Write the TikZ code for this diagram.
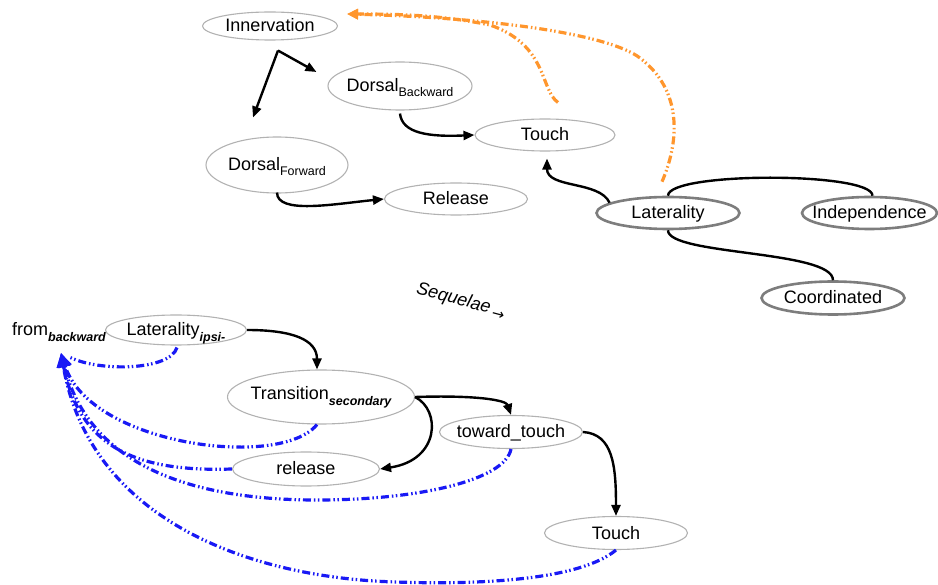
\documentclass[tikz,border=0pt]{standalone}
\usepackage{fontspec}
\setmainfont{Liberation Sans}
\newfontfamily\symfont{DejaVu Sans}
\usetikzlibrary{shapes.geometric,arrows.meta}
\definecolor{ringgray}{RGB}{178,178,178}
\definecolor{ringdark}{RGB}{125,125,125}
\definecolor{flowor}{RGB}{255,150,45}
\definecolor{flowbl}{RGB}{25,25,245}
% small subscripts: upright, and bold italic
\newcommand\subup[1]{\raisebox{-5pt}{\fontsize{12.5}{13}\selectfont #1}}
\newcommand\subbi[1]{\raisebox{-6pt}{\fontsize{12.5}{13}\selectfont\bfseries\itshape #1}}

\begin{document}
\begin{tikzpicture}[x=1pt,y=-1pt,font=\fontsize{18}{20}\selectfont,
  state/.style={ellipse,draw=ringgray,line width=1.1pt,inner xsep=-20pt,inner ysep=-5pt,
                text height=12pt,text depth=0pt},
  keystate/.style={state,draw=ringdark,line width=2.6pt},
  flow/.style={line width=2.4pt,-{Triangle[length=11pt,width=9pt]}},
  tie/.style={line width=2.4pt},
  dashdd/.style={dash pattern=on 8pt off 3pt on 1.5pt off 2.5pt on 1.5pt off 3pt},
  backor/.style={draw=flowor,line width=3.2pt,dashdd,-{Triangle[length=11pt,width=10pt]}},
  backbl/.style={draw=flowbl,line width=3.2pt,dashdd,-{Triangle[length=14pt,width=13pt]}},
]
\useasboundingbox (0,0) rectangle (938,585);

% ---- upper cluster ----
\node[state,minimum width=135pt,minimum height=28pt] (inn) at (270,26) {Innervation};
\node[state,minimum width=144pt,minimum height=48pt] (db) at (400,86) {Dorsal\subup{Backward}};
\node[state,minimum width=140pt,minimum height=32pt] (t1) at (545,135) {Touch};
\node[state,minimum width=142pt,minimum height=56pt] (df) at (277,165) {Dorsal\subup{Forward}};
\node[state,minimum width=143pt,minimum height=32pt] (rel) at (456,199) {Release};
\node[keystate,minimum width=143pt,minimum height=32pt] (lat) at (668,213) {Laterality};
\node[keystate,minimum width=135pt,minimum height=32pt] (ind) at (869.5,213) {Independence};
\node[keystate,minimum width=143pt,minimum height=33pt] (coo) at (833,298) {Coordinated};

\draw[flow] ([shift={(8,10)}]inn.south) -- ([shift={(-11,-14)}]db.west);
\draw[flow] ([shift={(8,10)}]inn.south) -- ([shift={(-24,-19)}]df.north);
\draw[flow] ([shift={(0,3)}]db.south) .. controls +(2,20) and +(-45,2) .. (t1.west);
\draw[flow] ([shift={(0,-1)}]df.south) .. controls +(0,22) and +(-50,5) .. (rel.west);
\draw[flow] (lat.170) .. controls +(-10,-22) and +(0,30) .. ([shift={(2,7)}]t1.south);
\draw[tie] (lat.north) .. controls +(0,-24) and +(0,-24) .. ([shift={(3,0)}]ind.north);
\draw[tie] (lat.south) .. controls +(0,25) and +(0,-30) .. (coo.north);

\draw[backor] ([shift={(-6,-14)}]lat.north) .. controls (680,140) and (682,90) .. (640,58)
  .. controls (610,35) and (500,18) .. ([shift={(9,-12)}]inn.east);
\draw[backor] ([shift={(13,-16)}]t1.north) .. controls (540,90) and (548,45) .. (490,25)
  .. controls (440,15) and (400,14) .. ([shift={(9,-12)}]inn.east);

\node[rotate=-15] (seq) at (461,301) {\itshape Sequelae\,\raisebox{-4pt}{\symfont\fontsize{15}{16}\selectfont →}};

% ---- lower cluster ----
\node[anchor=base west,inner sep=0pt] (fb) at (12,336) {from\subbi{backward}};
\coordinate (bt) at (61,353);
\node[state,minimum width=141pt,minimum height=30pt] (ipsi) at (176,330) {Laterality\subbi{ipsi-}};
\node[state,minimum width=187pt,minimum height=54pt,text depth=6pt] (tr) at (321,397) {Transition\subbi{secondary}};
\node[state,minimum width=143pt,minimum height=33pt] (tt) at (511,432) {toward\_touch};
\node[state,minimum width=147pt,minimum height=34pt] (rel2) at (306,469) {release};
\node[state,minimum width=143pt,minimum height=33pt] (t2) at (616,533) {Touch};

\draw[flow] (ipsi.east) .. controls +(45,0) and +(0,-30) .. ([shift={(-4,0)}]tr.north);
\draw[flow] (tr.east) .. controls +(60,-2) and +(-5,-15) .. (tt.north);
\draw[flow] (tr.east) .. controls +(26,13) and +(60,-9) .. (rel2.east);
\draw[flow] (tt.east) .. controls +(30,2) and +(0,-50) .. (t2.north);

\draw[draw=flowbl,line width=3.2pt,dashdd,shorten >=10pt] ([shift={(1,2)}]ipsi.south)
  .. controls +(-7,23) and (100,372) .. (bt);
\draw[backbl] ([shift={(-4,0)}]tr.south) .. controls (280,470) and (90,445) .. (bt);
\draw[backbl] (rel2.west) .. controls (140,472) and (80,450) .. (bt);
\draw[backbl] (tt.south) .. controls (505,480) and (420,500) .. (317,500)
  .. controls (200,500) and (90,470) .. (bt);
\draw[backbl] (t2.south) .. controls (580,580) and (480,585) .. (396,582)
  .. controls (250,578) and (90,520) .. (bt);
\end{tikzpicture}
\end{document}
